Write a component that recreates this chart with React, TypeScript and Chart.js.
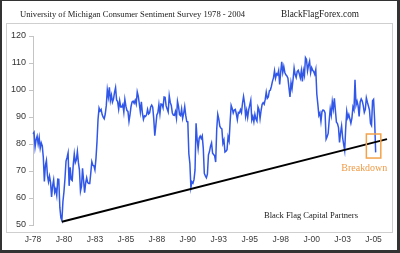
import { useEffect, useRef } from "react";
import { Chart, registerables } from "chart.js";
Chart.register(...registerables);

// University of Michigan Consumer Sentiment, monthly, Jan 1978 – Sep 2005
const sentiment: number[] = [
  83.7, 84.3, 78.8, 81.6, 82.9, 80.0, 82.4, 78.4, 80.4, 79.3, 75.0, 66.1, // 1978
  72.1, 73.9, 68.4, 66.0, 68.1, 65.8, 60.4, 64.5, 66.7, 62.1, 63.3, 61.0, // 1979
  67.0, 66.9, 56.5, 52.7, 51.7, 58.7, 62.3, 67.3, 73.7, 75.0, 76.7, 64.5, // 1980
  71.4, 66.9, 66.5, 72.4, 76.3, 73.1, 74.1, 77.2, 73.1, 70.3, 62.5, 64.3, // 1981
  71.0, 66.5, 62.0, 65.5, 67.5, 65.7, 65.4, 65.4, 69.3, 73.4, 72.1, 71.9, // 1982
  70.4, 74.6, 80.8, 89.1, 93.3, 92.2, 92.8, 90.9, 89.9, 89.3, 91.1, 94.2, // 1983
  100.1, 97.4, 101.0, 96.1, 98.1, 95.5, 96.6, 99.1, 100.9, 96.3, 95.7, 92.9, // 1984
  96.0, 93.7, 93.7, 94.6, 91.8, 96.5, 94.0, 92.4, 92.1, 88.4, 90.9, 93.9, // 1985
  95.6, 95.9, 95.1, 96.2, 94.8, 99.3, 97.7, 94.9, 91.9, 95.6, 91.4, 89.1, // 1986
  90.4, 90.2, 90.8, 92.8, 91.1, 91.5, 93.7, 94.4, 93.6, 89.3, 83.1, 86.8, // 1987
  90.8, 91.6, 94.6, 91.2, 94.8, 94.7, 93.4, 97.4, 97.3, 94.1, 93.0, 91.9, // 1988
  97.9, 95.4, 94.3, 91.5, 90.7, 90.6, 92.0, 89.6, 95.8, 93.9, 90.9, 90.5, // 1989
  93.0, 89.5, 91.3, 93.9, 90.6, 88.3, 88.2, 76.4, 72.8, 63.9, 66.0, 65.5, // 1990
  66.8, 70.4, 87.7, 81.8, 78.3, 82.1, 82.9, 82.0, 83.0, 78.3, 69.1, 68.2, // 1991
  67.5, 68.8, 76.0, 77.2, 79.2, 80.4, 76.6, 76.1, 75.6, 73.3, 85.3, 91.0, // 1992
  89.3, 86.6, 85.9, 85.6, 80.3, 81.5, 77.0, 77.3, 77.9, 82.7, 81.2, 88.2, // 1993
  94.3, 93.2, 91.5, 92.6, 92.8, 91.2, 89.0, 91.7, 91.5, 92.7, 91.6, 95.1, // 1994
  97.6, 95.1, 90.3, 92.5, 89.8, 92.7, 94.4, 96.2, 88.9, 90.2, 88.2, 91.0, // 1995
  89.3, 88.5, 93.7, 92.7, 89.4, 92.4, 94.7, 95.3, 94.7, 96.5, 99.2, 96.9, // 1996
  97.4, 99.7, 100.0, 101.4, 103.2, 104.5, 107.1, 104.4, 106.0, 105.6, 107.2, 102.1, // 1997
  106.6, 110.4, 106.5, 108.7, 106.5, 105.6, 105.2, 104.4, 100.9, 97.4, 102.7, 100.5, // 1998
  103.9, 108.1, 105.7, 104.6, 106.8, 107.3, 106.0, 104.5, 107.2, 103.2, 107.2, 105.4, // 1999
  112.0, 111.3, 107.1, 109.2, 110.7, 106.4, 108.3, 107.3, 106.8, 105.8, 107.6, 98.4, // 2000
  94.7, 90.6, 91.5, 88.4, 92.0, 92.6, 92.4, 91.5, 81.8, 82.7, 83.9, 88.8, // 2001
  93.0, 90.7, 95.7, 93.0, 96.9, 92.4, 88.1, 87.6, 86.1, 80.6, 84.2, 86.7, // 2002
  82.4, 79.9, 77.6, 86.0, 92.1, 89.7, 90.9, 89.3, 87.7, 89.6, 93.7, 92.6, // 2003
  103.8, 94.4, 95.8, 94.2, 90.2, 95.6, 96.7, 95.9, 94.2, 91.7, 92.8, 97.1, // 2004
  95.5, 94.1, 92.6, 87.7, 86.9, 96.0, 96.5, 89.1, 76.9, // 2005
];

const startYear = 1978;
const axisMonths = 344; // category axis runs Jan-78 .. Aug-06
const trendStart = [28, 51.2]; // [month index, value]
const trendEnd = [343, 81.8];
const xTickLabels = ["J-78", "J-80", "J-83", "J-85", "J-88", "J-90", "J-93", "J-95", "J-98", "J-00", "J-03", "J-05"];
const xTickEvery = 30;
const yRange = [50, 120, 10];
const breakdownBox = [323, 337, 83.7, 74.8]; // x from, x to (month index), y top, y bottom (value)
const breakdownText = [321, 71.0];

const titleText = "University of Michigan Consumer Sentiment Survey 1978 - 2004";
const siteText = "BlackFlagForex.com";
const creditText = "Black Flag Capital Partners";
const breakdownLabel = "Breakdown";

const decor = {
  id: "decor",
  beforeDraw(chart: any) {
    const ctx = chart.ctx as CanvasRenderingContext2D;
    const w = chart.width, h = chart.height;
    ctx.save();
    ctx.fillStyle = "#ffffff";
    ctx.fillRect(0, 0, w, h);
    ctx.strokeStyle = "#cfcfcf";
    ctx.lineWidth = 1;
    ctx.strokeRect(6.5, 23.5, 386, 209);
    ctx.fillStyle = "#333333";
    ctx.fillRect(0, 0, 2, h);
    ctx.fillRect(0, 0, w, 1);
    ctx.fillRect(w - 3, 0, 3, h);
    ctx.fillRect(0, h - 3, w, 3);
    ctx.fillStyle = "#1a1a1a";
    ctx.textBaseline = "alphabetic";
    ctx.textAlign = "left";
    ctx.font = '9px "Liberation Serif"';
    ctx.fillText(titleText, 20, 17, 225);
    ctx.font = '10px "Liberation Serif"';
    ctx.fillText(siteText, 281, 17, 78);
    ctx.restore();
  },
  afterDatasetsDraw(chart: any) {
    const ctx = chart.ctx as CanvasRenderingContext2D;
    const xs = chart.scales.x, ys = chart.scales.y;
    ctx.save();
    const x0 = xs.getPixelForValue(breakdownBox[0]);
    const x1 = xs.getPixelForValue(breakdownBox[1]);
    const y0 = ys.getPixelForValue(breakdownBox[2]);
    const y1 = ys.getPixelForValue(breakdownBox[3]);
    ctx.strokeStyle = "#f4a24a";
    ctx.lineWidth = 1.5;
    ctx.strokeRect(x0, y0, x1 - x0, y1 - y0);
    ctx.fillStyle = "#ee9a45";
    ctx.font = '10px "Liberation Serif"';
    ctx.textAlign = "center";
    ctx.textBaseline = "middle";
    ctx.fillText(breakdownLabel, xs.getPixelForValue(breakdownText[0]), ys.getPixelForValue(breakdownText[1]), 46);
    ctx.fillStyle = "#1a1a1a";
    ctx.font = '9px "Liberation Serif"';
    ctx.textAlign = "left";
    ctx.textBaseline = "middle";
    ctx.fillText(creditText, 264, 216, 94);
    ctx.restore();
  },
};

export default function App() {
  const ref = useRef<HTMLCanvasElement | null>(null);
  useEffect(() => {
    const canvas = ref.current;
    if (!canvas) return;
    const labels: string[] = [];
    for (let i = 0; i < axisMonths; i++) {
      labels.push(`${startYear + Math.floor(i / 12)}-${(i % 12) + 1}`);
    }
    const trend: (number | null)[] = new Array(axisMonths).fill(null);
    trend[trendStart[0]] = trendStart[1];
    trend[trendEnd[0]] = trendEnd[1];
    const chart = new Chart(canvas, {
      type: "line",
      data: {
        labels,
        datasets: [
          {
            label: "Trend",
            data: trend,
            borderColor: "#000000",
            borderWidth: 2,
            pointRadius: 0,
            spanGaps: true,
            tension: 0,
          },
          {
            label: "Sentiment",
            data: sentiment,
            borderColor: "#3057e8",
            borderWidth: 1.5,
            pointRadius: 0,
            tension: 0,
          },
        ],
      },
      options: {
        responsive: false,
        animation: false,
        devicePixelRatio: 1,
        layout: { padding: { top: 36, right: 13, left: 0, bottom: 0 } },
        plugins: { legend: { display: false }, tooltip: { enabled: false }, title: { display: false } },
        scales: {
          x: {
            type: "category",
            offset: false,
            grid: { display: false, drawTicks: false },
            border: { display: false },
            ticks: {
              autoSkip: false,
              maxRotation: 0,
              minRotation: 0,
              padding: 10,
              color: "#3a3a3a",
              font: { family: '"Liberation Sans"', size: 8.5 },
              callback: (_v: any, idx: number) =>
                idx % xTickEvery === 0 ? xTickLabels[idx / xTickEvery] ?? "" : "",
            },
            afterFit: (s: any) => {
              s.height = 28;
            },
          },
          y: {
            min: yRange[0],
            max: yRange[1],
            grid: { drawOnChartArea: false, drawTicks: true, tickLength: 4, color: "#c4c4c4" },
            border: { display: true, color: "#c4c4c4", width: 1 },
            ticks: {
              stepSize: yRange[2],
              padding: 3,
              color: "#333333",
              font: { family: '"Liberation Sans"', size: 9 },
            },
            afterFit: (s: any) => {
              s.width = 33;
            },
          },
        },
      },
      plugins: [decor],
    });
    return () => chart.destroy();
  }, []);
  return (
    <div style={{ position: "absolute", left: 0, top: 0, width: 400, height: 253 }}>
      <canvas ref={ref} width={400} height={253} />
    </div>
  );
}
